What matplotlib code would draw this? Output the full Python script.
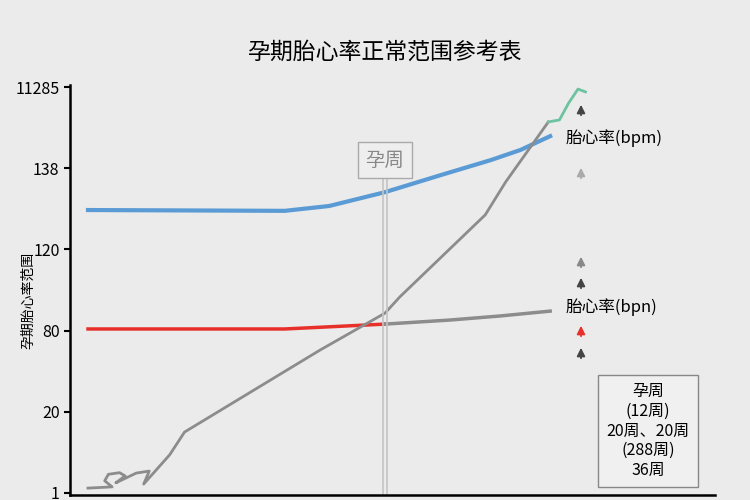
import matplotlib
matplotlib.use('Agg')
import matplotlib.pyplot as plt

plt.rcParams['font.family'] = ['Noto Sans CJK SC', 'DejaVu Sans']

# data (x = pregnancy week, y = position on the chart's odd tick scale)
blue_w = [4.0, 14.6, 17.0, 20.0, 23.0, 25.7, 27.3, 28.9]
blue_v = [69.7, 69.5, 70.7, 74.1, 78.3, 82.0, 84.5, 87.9]

red_w = [4.0, 14.6, 20.0]
red_v = [40.4, 40.4, 41.6]

flat_w = [20.0, 23.5, 26.2, 28.9]
flat_v = [41.6, 42.6, 43.6, 44.8]

rise_w = [4.0, 5.3, 4.9, 5.1, 5.7, 6.0, 5.5, 6.6, 7.3, 7.0, 8.4, 9.2, 16.5, 20.0, 20.8, 25.4, 26.5, 28.8]
rise_v = [1.2, 1.5, 3.0, 4.6, 5.0, 4.2, 2.5, 4.9, 5.4, 2.2, 9.4, 15.0, 35.2, 44.3, 48.3, 68.5, 76.6, 91.4]

green_w = [28.8, 29.4, 29.9, 30.4, 30.8]
green_v = [91.4, 91.9, 96.1, 99.5, 98.8]

ytick_pos = [0, 20, 40, 60, 80, 100]
ytick_labels = ['1', '20', '80', '120', '138', '11285']

legend_lines = ['孕周', '(12周)', '20周、20周', '(288周)', '36周']

bg = '#ebebeb'
fig = plt.figure(figsize=(7.5, 5), dpi=100, facecolor=bg)
ax = fig.add_axes([70 / 750, 5 / 500, 645 / 750, 410 / 500], facecolor=bg)

ax.plot(blue_w, blue_v, color='#5b9bd5', lw=3)
ax.plot(red_w, red_v, color='#e8302a', lw=2.5)
ax.plot(flat_w, flat_v, color='#8c8c8c', lw=2.5)
ax.plot(rise_w, rise_v, color='#8c8c8c', lw=2)
ax.plot(green_w, green_v, color='#6cc3a0', lw=2)

# double vertical marker at week 20
ax.axvline(19.87, ymax=0.805, color='#c4c4c4', lw=1.2)
ax.axvline(20.13, ymax=0.805, color='#c4c4c4', lw=1.2)
ax.text(20.0, 82.0, '孕周', ha='center', va='center', fontsize=14, color='#888888',
        bbox=dict(boxstyle='square,pad=0.4', fc='#eeeeee', ec='#aaaaaa', lw=1))

ax.set_xlim(3.03, 37.78)
ax.set_ylim(-0.5, 100.5)
ax.set_xticks([])
ax.set_yticks(ytick_pos)
ax.set_yticklabels(ytick_labels, fontsize=11.5)
ax.tick_params(axis='y', length=4, width=1.5)
for s in ['top', 'right']:
    ax.spines[s].set_visible(False)
for s in ['left', 'bottom']:
    ax.spines[s].set_linewidth(1.8)

# small arrows on the right
arrows = [(110, '#444444'), (173, '#aaaaaa'), (262, '#888888'),
          (283, '#444444'), (331, '#e8302a'), (353, '#444444')]
ax_x = (581 - 70) / 645
for py, c in arrows:
    y0 = (495 - (py + 8)) / 410
    y1 = (495 - (py - 8)) / 410
    ax.annotate('', xy=(ax_x, y1), xytext=(ax_x, y0), xycoords='axes fraction',
                arrowprops=dict(arrowstyle='-|>', color=c, lw=1.3, mutation_scale=12))

ax.text((566 - 70) / 645, (495 - 138) / 410, '胎心率(bpm)', transform=ax.transAxes,
        fontsize=12, va='center', ha='left')
ax.text((566 - 70) / 645, (495 - 307) / 410, '胎心率(bpn)', transform=ax.transAxes,
        fontsize=12, va='center', ha='left')

ax.text((648 - 70) / 645, (495 - 431) / 410, '\n'.join(legend_lines), transform=ax.transAxes,
        fontsize=11.5, va='center', ha='center', linespacing=1.2,
        bbox=dict(boxstyle='square,pad=0.55', fc='#f0f0f0', ec='#888888', lw=1))

fig.text(28 / 750, 1 - 300 / 500, '孕期胎心率范围', rotation=90, fontsize=10,
         ha='center', va='center')
fig.text(385 / 750, 1 - 52 / 500, '孕期胎心率正常范围参考表', fontsize=16.5,
         ha='center', va='center')

fig.savefig('out.png', dpi=100, facecolor=bg)
